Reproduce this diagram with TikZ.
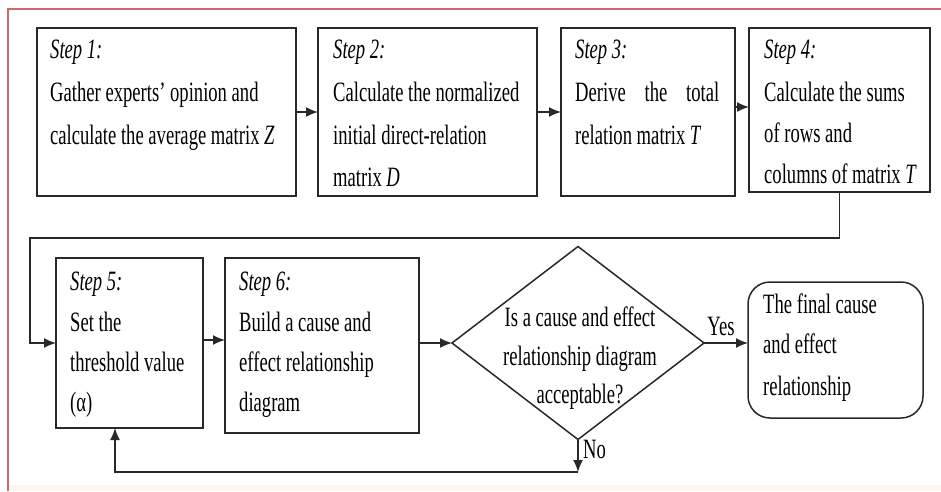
\documentclass[tikz,border=0pt]{standalone}
\usepackage{fontspec}
\setmainfont{Liberation Serif}[FakeStretch=0.665]
\usetikzlibrary{arrows.meta,shapes.geometric}
\definecolor{framered}{RGB}{205,105,105}
\definecolor{ink}{RGB}{40,40,40}
\definecolor{peach}{RGB}{253,246,240}
\begin{document}
\begin{tikzpicture}[x=1pt,y=-1pt,
  box/.style={draw=ink,line width=1.5pt,inner sep=0pt,outer sep=0pt},
  tx/.style={anchor=base west,inner sep=0pt,font=\fontsize{28}{34}\selectfont,text=black},
  ctx/.style={tx,anchor=base},
  conn/.style={draw=ink,line width=1.5pt,-{Latex[length=12pt,width=10pt]}},
  ln/.style={draw=ink,line width=1.5pt}]
\useasboundingbox (0,0) rectangle (941,491);
\fill[white] (0,0) rectangle (941,491);
\fill[peach] (8,485) rectangle (941,491);
\draw[framered,line width=2pt] (8,491) -- (8,9) -- (941,9);

% boxes
\node[box,minimum width=259pt,minimum height=168pt] (b1) at (166.5,112) {};
\node[box,minimum width=219pt,minimum height=168pt] (b2) at (427.5,112) {};
\node[box,minimum width=174pt,minimum height=168pt] (b3) at (648,112) {};
\node[box,minimum width=181pt,minimum height=164pt] (b4) at (839.5,110) {};
\node[box,minimum width=147pt,minimum height=170pt] (b5) at (129.5,343) {};
\node[box,minimum width=194pt,minimum height=175pt] (b6) at (322,345.5) {};
\node[box,diamond,aspect=1.306,minimum width=252pt,minimum height=193pt] (d) at (578,343) {};
\node[box,rounded corners=22pt,minimum width=175pt,minimum height=136pt] (b7) at (835.5,350) {};

% texts box 1
\node[tx] (t1a) at (50,58) {\textit{Step 1:}};
\node[tx] (t1b) at (50,101) {Gather experts’ opinion and};
\node[tx] (t1c) at (50,144) {calculate the average matrix \textit{Z}};
% box 2
\node[tx] (t2a) at (333,58) {\textit{Step 2:}};
\node[tx] (t2b) at (333,101) {Calculate the normalized};
\node[tx] (t2c) at (333,144) {initial direct-relation};
\node[tx] (t2d) at (333,186) {matrix \textit{D}};
% box 3
\node[tx] (t3a) at (575,58) {\textit{Step 3:}};
\node[tx] (t3b) at (575,101) {\makebox[144pt][s]{Derive the total}};
\node[tx] (t3c) at (575,144) {relation matrix \textit{T}};
% box 4
\node[tx] (t4a) at (764,58) {\textit{Step 4:}};
\node[tx] (t4b) at (764,101) {Calculate the sums};
\node[tx] (t4c) at (764,142) {of rows and};
\node[tx] (t4d) at (764,183) {columns of matrix \textit{T}};
% box 5
\node[tx] (t5a) at (70,290) {\textit{Step 5:}};
\node[tx] (t5b) at (70,331) {Set the};
\node[tx] (t5c) at (70,371) {threshold value};
\node[tx] (t5d) at (70,411) {(α)};
% box 6
\node[tx] (t6a) at (239,290) {\textit{Step 6:}};
\node[tx] (t6b) at (239,331) {Build a cause and};
\node[tx] (t6c) at (239,371) {effect relationship};
\node[tx] (t6d) at (239,411) {diagram};
% diamond
\node[ctx] (tda) at (580,326) {Is a cause and effect};
\node[ctx] (tdb) at (580,365) {relationship diagram};
\node[ctx] (tdc) at (580,403) {acceptable?};
% box 7
\node[tx] (t7a) at (763,313) {The final cause};
\node[tx] (t7b) at (763,353) {and effect};
\node[tx] (t7c) at (763,395) {relationship};

% connectors
\draw[conn] (b1.east) -- (b2.west);
\draw[conn] (b2.east) -- (b3.west);
\draw[conn] (b3.east |- 0,107) -- (b4.west |- 0,107);
\coordinate (k1) at (30,238);
\draw[conn] (b4.south) |- (k1) |- (b5.west);
\draw[conn] (b5.east |- 0,340) -- (b6.west |- 0,340);
\draw[conn] (b6.east |- d.west) -- (d.west);
\draw[conn] (d.east) -- (d.east -| b7.west);
\node[ctx] (yes) at (721,335) {Yes};
\coordinate (k2) at (578,472);
\draw[conn] (d.south) -- (k2);
\node[tx] (no) at (583,458) {No};
\coordinate (k3) at (115,472);
\draw[conn] (k2) -- (k3) -- (k3 |- b5.south);
\end{tikzpicture}
\end{document}
